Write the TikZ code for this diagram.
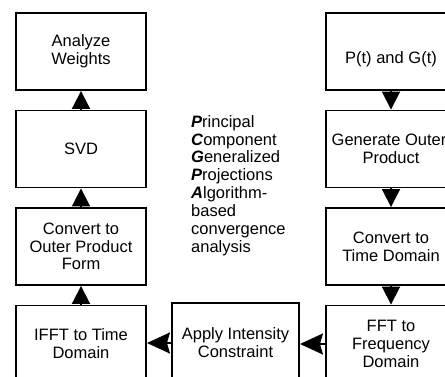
\documentclass[tikz,border=0pt]{standalone}
\usepackage{fontspec}
\setmainfont{Liberation Sans}
\usepackage{tikz}
\usetikzlibrary{arrows.meta}
\definecolor{flowBlack}{rgb}{0, 0, 0}
\tikzset{
	stepbox/.style={draw=flowBlack, line width=1.9pt, minimum width=130pt, minimum height=77pt, inner sep=0pt, align=center, font=\fontsize{16.5}{17.8}\selectfont},
	flowarrow/.style={line width=1.9pt, flowBlack, -{Triangle[length=18pt, width=18pt]}},
	sidearrow/.style={line width=1.9pt, flowBlack, -{Stealth[length=23pt, width=21pt, inset=3pt]}}
}
\def\scale{1}

\begin{document}
\begin{tikzpicture}[x=\scale pt, y=-\scale pt, line cap = round]
	\useasboundingbox (0,0) rectangle (445,377);
	\clip (0,0) rectangle (445,377);

	% left column, read from the bottom up
	\node[stepbox] (weights) at (81,51.5) {Analyze\\Weights};
	\node[stepbox] (svd) at (81,149) {SVD};
	\node[stepbox] (outerform) at (81,246.5) {Convert to\\Outer Product\\Form};
	\node[stepbox] (ifft) at (81,344) {IFFT to Time\\Domain};

	% right column, read from the top down
	\node[stepbox, text height=24pt, text depth=0pt] (pg) at (391,51.5) {P(t) and G(t)};
	\node[stepbox] (outer) at (391,149) {\hspace*{-4pt}Generate Outer\\Product};
	\node[stepbox] (timedom) at (391,246.5) {Convert to\\Time Domain};
	\node[stepbox] (fft) at (391,344) {FFT to\\Frequency\\Domain};

	\node[stepbox, minimum width=127pt, minimum height=80pt] (intensity) at (235.5,343) {Apply Intensity\\Constraint};

	\node[anchor=north west, inner sep=0pt, align=left, font=\fontsize{16.5}{17.9}\selectfont] (pcgpa) at (191,115) {%
		\textbf{\textit{P}}rincipal\\
		\textbf{\textit{C}}omponent\\
		\textbf{\textit{G}}eneralized\\
		\textbf{\textit{P}}rojections\\
		\textbf{\textit{A}}lgorithm-\\
		based\\
		convergence\\
		analysis};

	\draw[flowarrow] (pg) -- (outer);
	\draw[flowarrow] (outer) -- (timedom);
	\draw[flowarrow] (timedom) -- (fft);
	\draw[sidearrow] (fft.west) -- (fft.west -| intensity.east);
	\draw[sidearrow] (intensity.west) -- (intensity.west -| ifft.east);
	\draw[flowarrow] (ifft) -- (outerform);
	\draw[flowarrow] (outerform) -- (svd);
	\draw[flowarrow] (svd) -- (weights);

\end{tikzpicture}
\end{document}
